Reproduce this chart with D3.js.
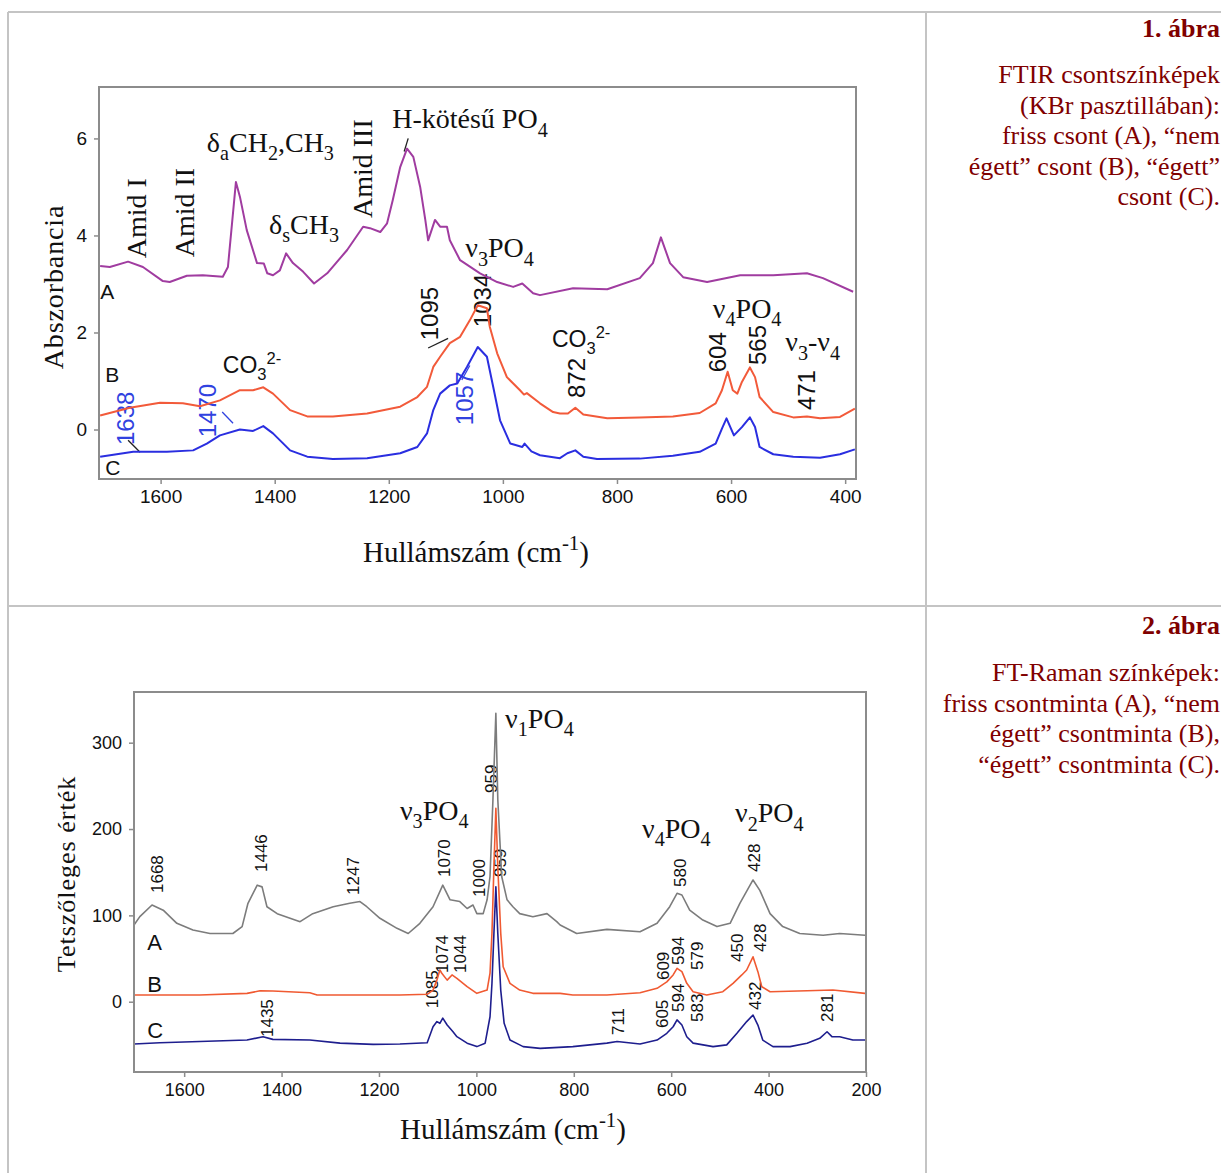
<!DOCTYPE html>
<html>
<head>
<meta charset="utf-8">
<script src="https://cdn.jsdelivr.net/npm/d3@7"></script>
<style>
  body { margin: 0; background: #fff; }
  svg { display: block; }
</style>
</head>
<body>
<script>
// ---- 1. ábra: FTIR, [wavenumber, absorbance] ----
const ftirA = [[1706,3.37],[1689,3.35],[1657,3.46],[1631,3.35],[1596,3.06],[1584,3.04],[1554,3.17],[1526,3.18],[1491,3.15],[1482,3.35],[1468,5.10],[1461,4.80],[1449,4.11],[1431,3.43],[1419,3.42],[1413,3.22],[1403,3.18],[1391,3.28],[1380,3.63],[1368,3.43],[1350,3.25],[1331,3.01],[1308,3.22],[1273,3.70],[1245,4.18],[1233,4.15],[1215,4.07],[1203,4.25],[1193,4.73],[1180,5.41],[1168,5.79],[1157,5.62],[1145,5.00],[1136,4.32],[1131,3.90],[1119,4.32],[1110,4.18],[1098,4.18],[1093,3.90],[1075,3.49],[1040,3.22],[1010,3.04],[982,2.94],[966,3.01],[947,2.81],[935,2.77],[877,2.91],[817,2.89],[760,3.12],[737,3.43],[723,3.96],[707,3.43],[684,3.14],[642,3.04],[584,3.18],[526,3.18],[467,3.22],[439,3.12],[386,2.84]];
const ftirB = [[1706,0.29],[1654,0.45],[1601,0.55],[1561,0.54],[1531,0.48],[1496,0.60],[1461,0.81],[1438,0.81],[1420,0.87],[1403,0.74],[1373,0.40],[1343,0.27],[1298,0.27],[1238,0.33],[1180,0.47],[1150,0.67],[1133,0.88],[1122,1.29],[1110,1.50],[1093,1.78],[1075,1.91],[1058,2.25],[1044,2.56],[1028,2.50],[1023,2.12],[1010,1.57],[993,1.08],[970,0.81],[963,0.72],[958,0.75],[935,0.54],[912,0.36],[900,0.33],[886,0.33],[873,0.45],[859,0.31],[817,0.23],[760,0.25],[702,0.27],[655,0.34],[627,0.54],[616,0.81],[606,1.19],[597,0.81],[589,0.74],[581,0.98],[567,1.28],[558,1.08],[550,0.67],[526,0.36],[491,0.25],[467,0.27],[444,0.23],[409,0.26],[383,0.43]];
const ftirC = [[1706,-0.56],[1648,-0.46],[1589,-0.46],[1543,-0.43],[1519,-0.29],[1496,-0.12],[1461,0.0],[1438,-0.03],[1420,0.07],[1403,-0.08],[1373,-0.43],[1343,-0.56],[1298,-0.61],[1238,-0.59],[1180,-0.49],[1150,-0.36],[1133,-0.08],[1122,0.40],[1110,0.74],[1093,0.91],[1080,0.95],[1063,1.29],[1044,1.70],[1028,1.50],[1017,0.88],[1005,0.19],[987,-0.29],[966,-0.36],[962,-0.29],[950,-0.45],[935,-0.53],[900,-0.59],[887,-0.49],[873,-0.43],[859,-0.56],[835,-0.61],[760,-0.60],[702,-0.54],[655,-0.46],[627,-0.29],[616,0.02],[608,0.23],[595,-0.12],[581,0.05],[567,0.25],[558,0.05],[550,-0.36],[526,-0.51],[491,-0.56],[444,-0.58],[409,-0.51],[383,-0.41]];
const ftirXTicks = [1600, 1400, 1200, 1000, 800, 600, 400];
const ftirYTicks = [0, 2, 4, 6];

// labels: [text, wavenumber, value]
const ftirRotLabels = [["Amid I",1643,3.53],["Amid II",1559,3.55],["Amid III",1247,4.36]];
const ftirLabels = [["δ_{a}CH_{2},CH_{3}",1519,5.72],["δ_{s}CH_{3}",1410,4.03],["H-kötésű PO_{4}",1194,6.21],["ν_{3}PO_{4}",1066,3.55],["ν_{4}PO_{4}",632,2.30],["ν_{3}-ν_{4}",505,1.61]];
const ftirSansLabels = [["CO_{3}^{2-}",1491,1.16],["CO_{3}^{2-}",914,1.70]];
const ftirTags = [["A",1706,2.69],["B",1697,0.98],["C",1697,-0.94]];
const ftirNumbers = [["1095",1128,1.84],["1034",1035,2.11],["872",870,0.65],["604",623,1.18],["565",554,1.33],["471",468,0.40]];
const ftirBlueNumbers = [["1638",1662,-0.32],["1470",1517,-0.16],["1057",1068,0.09]];
const ftirLeaders = [[1166,6.0,1173,5.73],[1131,1.68,1096,1.88],[1657,-0.22,1636,-0.47]];
const ftirBlueLeaders = [[1492,0.36,1473,0.13],[1072,1.02,1058,1.32]];

// ---- 2. ábra: FT-Raman, [wavenumber, intensity] ----
const ramanA = [[1703,88.8],[1691,98.5],[1666,112],[1643,106],[1615,90.8],[1582,83],[1547,79],[1500,79],[1481,87],[1469,114],[1450,135],[1440,133],[1430,110],[1409,102],[1362,92.7],[1336,102],[1294,110],[1260,114],[1239,116],[1225,110],[1198,96.6],[1163,85],[1140,79],[1116,90.8],[1089,110],[1069,135],[1054,118],[1034,116],[1019,108],[1007,112],[999,102],[986,102],[978,118],[972,145],[966,234],[960,334],[956,234],[948,145],[937,118],[925,110],[911,102],[884,98.5],[855,102],[835,92.7],[828,88.8],[794,79],[732,83.8],[664,81],[629,90.8],[603,110],[588,125.6],[578,123.6],[562,106],[535,94.6],[506,87],[479,90.8],[459,114],[432,141],[418,129],[397,102],[371,87],[336,79],[288,77],[254,79],[202,77]];
const ramanB = [[1703,7.8],[1568,7.8],[1471,9.7],[1444,12.7],[1418,12.4],[1342,10.4],[1327,7.8],[1157,7.8],[1101,8.6],[1089,13.5],[1081,25],[1075,36.7],[1071,33],[1060,25],[1050,31],[1040,27],[1019,17.4],[999,9.7],[978,13.5],[972,33],[968,79.5],[964,156],[960,224],[956,156],[950,79.5],[945,40.5],[931,21.3],[911,13.5],[884,9.7],[828,9.7],[802,7.8],[732,7.8],[664,10.4],[629,15.5],[609,23],[596,31],[588,38.7],[578,34.8],[568,21.3],[555,11.6],[527,7.8],[494,11.6],[473,21.3],[455,31],[445,36.7],[432,52],[422,34.8],[414,17.4],[397,11.6],[321,12.7],[268,13.5],[202,9.7]];
const ramanC = [[1703,-49],[1650,-47.5],[1568,-46],[1471,-44.4],[1438,-40.5],[1418,-43.6],[1342,-44.4],[1280,-48],[1212,-49.4],[1157,-49],[1101,-47.5],[1089,-29],[1081,-23],[1075,-25],[1069,-19],[1060,-27],[1048,-34.8],[1040,-40.5],[1019,-48],[999,-52],[982,-48],[972,-17.4],[968,21.3],[964,79],[960,133],[956,79],[950,13.5],[943,-25],[931,-44.4],[911,-50],[904,-52],[869,-54],[802,-52],[732,-48],[711,-46],[664,-49],[629,-44.4],[609,-36.6],[596,-29],[588,-21],[578,-27],[568,-40.5],[555,-48],[514,-52],[486,-50],[465,-36.6],[445,-23],[432,-15.4],[422,-27],[412,-44.4],[391,-52],[356,-52],[321,-48],[295,-42.4],[280,-34.8],[270,-40.5],[254,-40.5],[227,-44.4],[202,-44.4]];
const ramanXTicks = [1600, 1400, 1200, 1000, 800, 600, 400, 200];
const ramanYTicks = [0, 100, 200, 300];

const ramanLabels = [["ν_{3}PO_{4}",1157,210.5],["ν_{1}PO_{4}",941,317],["ν_{4}PO_{4}",660,189.6],["ν_{2}PO_{4}",469,208]];
const ramanTags = [["A",1676,59.9],["B",1676,11.2],["C",1676,-42]];
const ramanNumbers = [["1668",1656,125.9],["1446",1442,150.2],["1247",1253,123.7],["1070",1067,144.4],["959",970,241.8],["1000",995,121.3],["959",952,144.4],["580",582,132.9],["428",430,150.2],["1435",1430,-40.9],["1085",1091,-7.5],["1074",1071,33.3],["1044",1034,33.3],["609",617,25.1],["594",586,42.5],["579",547,36.7],["450",465,46],["428",418,57.6],["711",709,-38.6],["605",619,-30.5],["594",586,-11.9],["583",547,-23.5],["432",428,-9.6],["281",280,-23.5]];

// captions on the right
const cap1Title = "1. ábra";
const cap1Lines = ["FTIR csontszínképek", "(KBr pasztillában):", "friss csont (A), “nem", "égett” csont (B), “égett”", "csont (C)."];
const cap2Title = "2. ábra";
const cap2Lines = ["FT-Raman színképek:", "friss csontminta (A), “nem", "égett” csontminta (B),", "“égett” csontminta (C)."];

const serif = "'Liberation Serif','Times New Roman',serif";
const sans = "'Liberation Sans',Arial,sans-serif";

const svg = d3.select("body").append("svg").attr("width", 1221).attr("height", 1173);

// table lines of the page
const border = svg.append("g").attr("stroke", "#c4c4c4").attr("stroke-width", 2);
[[8,12,1221,12],[8,12,8,1173],[926,12,926,1173],[8,606,1221,606]].forEach(function(l) {
  border.append("line").attr("x1", l[0]).attr("y1", l[1]).attr("x2", l[2]).attr("y2", l[3]);
});

// text with _{sub} and ^{sup} parts
function rich(text, str, fs) {
  const re = /([_^])\{([^}]*)\}|([^_^]+)/g;
  let m, shift = 0;
  while ((m = re.exec(str))) {
    const ts = text.append("tspan");
    let target = 0;
    if (m[1] === "_") { target = fs * 0.3; ts.attr("font-size", fs * 0.72).text(m[2]); }
    else if (m[1] === "^") { target = -fs * 0.4; ts.attr("font-size", fs * 0.72).text(m[2]); }
    else ts.text(m[3]);
    if (target !== shift) ts.attr("dy", target - shift);
    shift = target;
  }
}

function drawPanel(c) {
  const x = d3.scaleLinear().domain(c.xDomain).range([c.left, c.right]);
  const y = d3.scaleLinear().domain(c.yDomain).range([c.bottom, c.top]);
  const g = svg.append("g");

  // rotated peak numbers
  function rotated(list, size, family, color) {
    g.selectAll(null).data(list).enter().append("text")
      .attr("transform", function(d) { return "translate(" + x(d[1]) + "," + y(d[2]) + ") rotate(-90)"; })
      .attr("dy", "0.35em")
      .attr("font-family", family).attr("font-size", size).attr("fill", color)
      .text(function(d) { return d[0]; });
  }
  function flat(list, size, family, color) {
    list.forEach(function(d) {
      const t = g.append("text").attr("x", x(d[1])).attr("y", y(d[2]))
        .attr("font-family", family).attr("font-size", size).attr("fill", color);
      rich(t, d[0], size);
    });
  }
  function leaders(list, color) {
    g.selectAll(null).data(list).enter().append("line")
      .attr("x1", function(d) { return x(d[0]); }).attr("y1", function(d) { return y(d[1]); })
      .attr("x2", function(d) { return x(d[2]); }).attr("y2", function(d) { return y(d[3]); })
      .attr("stroke", color).attr("stroke-width", 1.3);
  }

  (c.rotSerif || []).forEach(function(r) { rotated(r[0], r[1], serif, "#111"); });
  (c.numbers || []).forEach(function(r) { rotated(r[0], r[1], sans, r[2]); });
  (c.serifLabels || []).forEach(function(r) { flat(r[0], r[1], serif, "#111"); });
  (c.sansLabels || []).forEach(function(r) { flat(r[0], r[1], sans, "#111"); });
  (c.leaders || []).forEach(function(r) { leaders(r[0], r[1]); });

  const line = d3.line().x(function(d) { return x(d[0]); }).y(function(d) { return y(d[1]); });
  c.series.forEach(function(s) {
    g.append("path").datum(s.data).attr("d", line)
      .attr("fill", "none").attr("stroke", s.color).attr("stroke-width", c.lineWidth)
      .attr("stroke-linejoin", "round");
  });

  // frame and axes
  g.append("rect").attr("x", c.left).attr("y", c.top)
    .attr("width", c.right - c.left).attr("height", c.bottom - c.top)
    .attr("fill", "none").attr("stroke", "#8c8c8c").attr("stroke-width", 2);

  const ax = g.append("g").attr("transform", "translate(0," + c.bottom + ")")
    .call(d3.axisBottom(x).tickValues(c.xTicks).tickSize(5).tickPadding(6).tickFormat(d3.format("d")));
  const ay = g.append("g").attr("transform", "translate(" + c.left + ",0)")
    .call(d3.axisLeft(y).tickValues(c.yTicks).tickSize(5).tickPadding(7).tickFormat(d3.format("d")));
  [ax, ay].forEach(function(a) {
    a.select(".domain").remove();
    a.selectAll("line").attr("stroke", "#8c8c8c").attr("stroke-width", 1.5);
    a.selectAll("text").attr("font-family", sans).attr("font-size", c.tickSize).attr("fill", "#111");
  });

  const xt = g.append("text").attr("x", c.xTitle[0]).attr("y", c.xTitle[1])
    .attr("text-anchor", "middle").attr("font-family", serif).attr("font-size", 29).attr("fill", "#111");
  rich(xt, "Hullámszám (cm^{-1})", 29);
  g.append("text").attr("transform", "translate(" + c.yTitle[0] + "," + c.yTitle[1] + ") rotate(-90)")
    .attr("text-anchor", "middle").attr("font-family", serif).attr("font-size", c.yTitle[4])
    .attr("letter-spacing", c.yTitle[3]).attr("fill", "#111").text(c.yTitle[2]);
}

drawPanel({
  left: 99, right: 856, top: 87, bottom: 479,
  xDomain: [1708, 381], yDomain: [-1.02, 7.06],
  xTicks: ftirXTicks, yTicks: ftirYTicks, tickSize: 19, lineWidth: 2,
  series: [{data: ftirA, color: "#a03ca0"}, {data: ftirB, color: "#f25a3a"}, {data: ftirC, color: "#2a2ee0"}],
  rotSerif: [[ftirRotLabels, 28]],
  numbers: [[ftirNumbers, 24, "#111"], [ftirBlueNumbers, 24, "#3042e0"]],
  serifLabels: [[ftirLabels, 28]],
  sansLabels: [[ftirSansLabels, 23], [ftirTags, 21]],
  leaders: [[ftirLeaders, "#222"], [ftirBlueLeaders, "#3042e0"]],
  xTitle: [476, 562],
  yTitle: [63, 287, "Abszorbancia", 0.9, 28]
});

drawPanel({
  left: 134, right: 866, top: 692, bottom: 1072,
  xDomain: [1703, 200], yDomain: [-81.4, 358.7],
  xTicks: ramanXTicks, yTicks: ramanYTicks, tickSize: 18, lineWidth: 1.6,
  series: [{data: ramanA, color: "#7c7c7c"}, {data: ramanB, color: "#f05a32"}, {data: ramanC, color: "#1e1e8e"}],
  numbers: [[ramanNumbers, 17, "#111"]],
  serifLabels: [[ramanLabels, 28]],
  sansLabels: [[ramanTags, 22]],
  xTitle: [513, 1139],
  yTitle: [75, 874, "Tetszőleges érték", 1, 26]
});

// captions
function caption(title, lines, y0, y1) {
  const g = svg.append("g").attr("font-family", serif).attr("fill", "#800000").attr("text-anchor", "end");
  g.append("text").attr("x", 1220).attr("y", y0).attr("font-size", 26).attr("font-weight", "bold").text(title);
  g.selectAll(null).data(lines).enter().append("text")
    .attr("x", 1220).attr("y", function(d, i) { return y1 + i * 30.6; })
    .attr("font-size", 26).text(function(d) { return d; });
}
caption(cap1Title, cap1Lines, 37, 83);
caption(cap2Title, cap2Lines, 634, 681);
</script>
</body>
</html>
